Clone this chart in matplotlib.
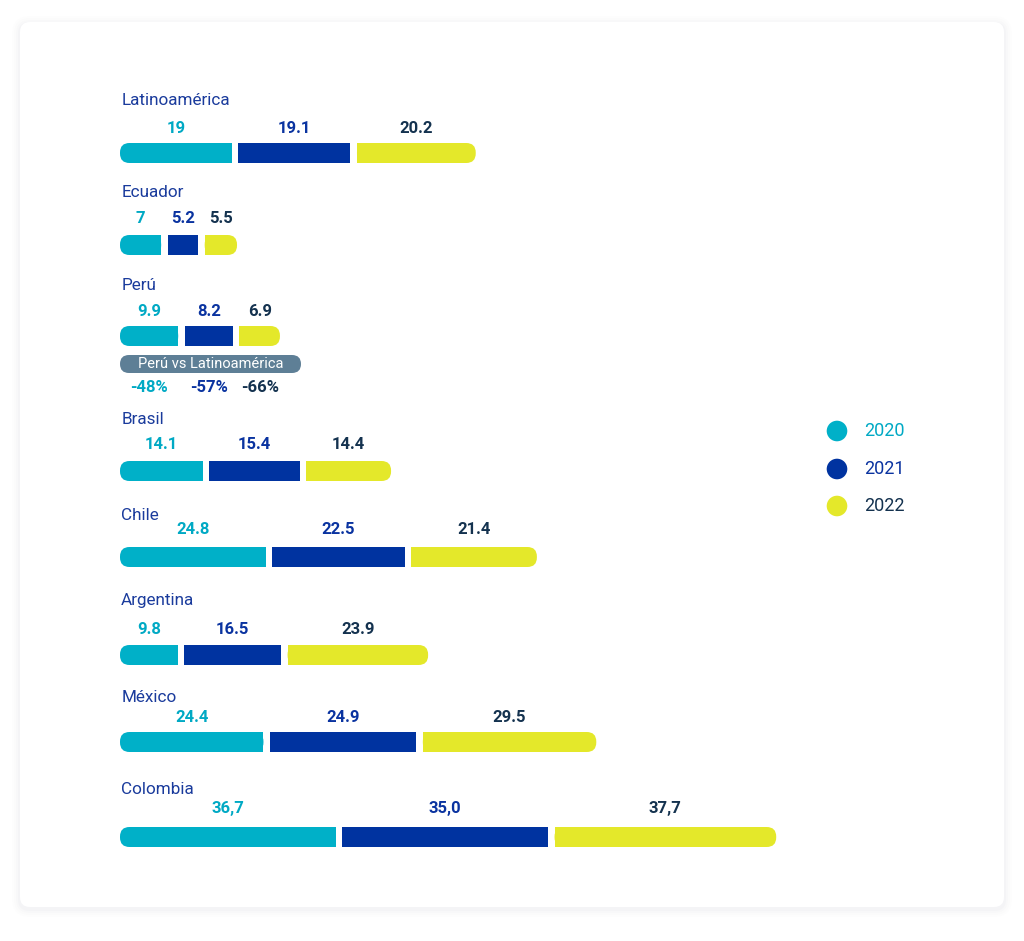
import matplotlib
matplotlib.use("Agg")
import matplotlib.pyplot as plt
from matplotlib.patches import FancyBboxPatch, Rectangle

countries = ["Latinoamérica", "Ecuador", "Perú", "Brasil", "Chile", "Argentina", "México", "Colombia"]
v2020 = [19, 7, 9.9, 14.1, 24.8, 9.8, 24.4, 36.7]
v2021 = [19.1, 5.2, 8.2, 15.4, 22.5, 16.5, 24.9, 35.0]
v2022 = [20.2, 5.5, 6.9, 14.4, 21.4, 23.9, 29.5, 37.7]
labels2020 = ["19", "7", "9.9", "14.1", "24.8", "9.8", "24.4", "36,7"]
labels2021 = ["19.1", "5.2", "8.2", "15.4", "22.5", "16.5", "24.9", "35,0"]
labels2022 = ["20.2", "5.5", "6.9", "14.4", "21.4", "23.9", "29.5", "37,7"]
years = ["2020", "2021", "2022"]
peru_vs_latam = ["-48%", "-57%", "-66%"]

seg_colors = ["#00B0C8", "#0033A0", "#E4E82A"]
txt_colors = ["#00A9C4", "#0A33A0", "#14324F"]
name_color = "#1A3B9C"

W, H = 1024, 941
fig = plt.figure(figsize=(W / 100, H / 100), dpi=100)
fig.patch.set_facecolor("#FFFFFF")

# background / card axes in pixel coordinates
bg = fig.add_axes([0, 0, 1, 1])
bg.set_xlim(0, W)
bg.set_ylim(H, 0)
bg.axis("off")
for i, a in enumerate([0.012, 0.015, 0.02, 0.03]):
    pad = 8 - 2 * i
    bg.add_patch(FancyBboxPatch((20 - pad, 22 - pad + 2), 984 + 2 * pad, 885 + 2 * pad,
                                boxstyle="round,pad=0,rounding_size=%d" % (10 + pad),
                                fc="#8090A0", ec="none", alpha=a))
bg.add_patch(FancyBboxPatch((20, 22), 984, 885, boxstyle="round,pad=0,rounding_size=10",
                            fc="white", ec="none"))

# bars axes: x in value units
scale = 5.88
x0px = 120
ax = fig.add_axes([0, 0, 1, 1])
ax.set_xlim(-x0px / scale, (W - x0px) / scale)
ax.set_ylim(H, 0)
ax.axis("off")
ax.patch.set_alpha(0)

bar_y = [153, 245, 336, 471, 557, 655, 742, 837]
name_off = [53, 53, 51, 51, 42, 54, 44, 48]
val_off = [25, 27, 25, 27, 27, 26, 25, 29]
bar_h = 20
gap = 1.1
rx = 9.5 / scale  # corner radius in x units

fam = ["Roboto", "DejaVu Sans"]

for i, c in enumerate(countries):
    yc = bar_y[i]
    vals = [v2020[i], v2021[i], v2022[i]]
    labs = [labels2020[i], labels2021[i], labels2022[i]]
    start = 0.0
    centers = []
    for j, v in enumerate(vals):
        x_start, x_end = start, start + v
        col = seg_colors[j]
        if j == 0 or j == 2:
            ax.add_patch(FancyBboxPatch((x_start, yc - bar_h / 2), v, bar_h,
                                        boxstyle="round,pad=0,rounding_size=%f" % rx,
                                        mutation_aspect=scale, fc=col, ec="none"))
            if j == 0:
                ax.add_patch(Rectangle((x_start + v / 2, yc - bar_h / 2), v / 2, bar_h, fc=col, ec="none"))
            else:
                ax.add_patch(Rectangle((x_start, yc - bar_h / 2), v / 2, bar_h, fc=col, ec="none"))
        else:
            ax.add_patch(Rectangle((x_start, yc - bar_h / 2), v, bar_h, fc=col, ec="none"))
        cx = (x_start + x_end) / 2
        centers.append(cx)
        ax.text(cx, yc - val_off[i], labs[j], ha="center", va="center", fontsize=12,
                fontweight="bold", color=txt_colors[j], family=fam)
        start = x_end + gap
    ax.text(0.2, yc - name_off[i], c, ha="left", va="center", fontsize=12.3, color=name_color, family=fam)
    if c == "Perú":
        bg.add_patch(FancyBboxPatch((120, 355), 181, 18, boxstyle="round,pad=0,rounding_size=9",
                                    fc="#5E7F96", ec="none"))
        bg.text(210.5, 364.5, "Perú vs Latinoamérica", ha="center", va="center", fontsize=10.5,
                color="white", family=fam)
        for j, p in enumerate(peru_vs_latam):
            ax.text(centers[j], 387, p, ha="center", va="center", fontsize=12,
                    fontweight="bold", color=txt_colors[j], family=fam)

# legend
leg_y = [431, 469, 506]
for j, yr in enumerate(years):
    bg.scatter([837], [leg_y[j]], s=220, color=seg_colors[j], edgecolors="none")
    bg.text(864, leg_y[j], yr, ha="left", va="center", fontsize=13, color=txt_colors[j], family=fam)

fig.savefig("out.png", dpi=100, facecolor=fig.get_facecolor())
